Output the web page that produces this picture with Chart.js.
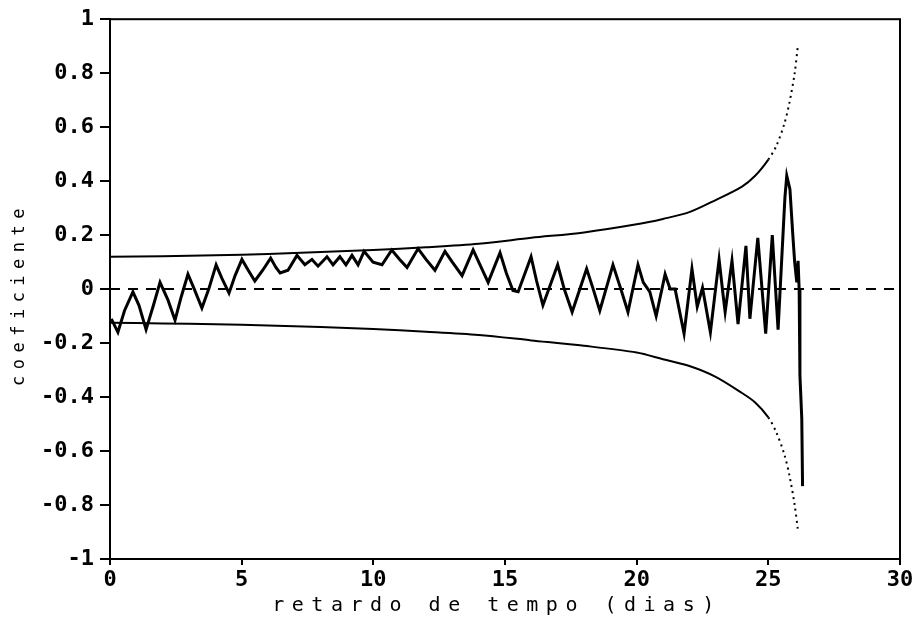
<!DOCTYPE html>
<html>
<head>
<meta charset="utf-8">
<script src="https://cdn.jsdelivr.net/npm/chart.js@4/dist/chart.umd.min.js"></script>
<style>
  html, body { margin: 0; padding: 0; background: #fff; }
  #wrap { width: 919px; height: 632px; position: relative; }
</style>
</head>
<body>
<div id="wrap"><canvas id="acf"></canvas></div>
<script>
// coeficiente de autocorrelacao vs retardo (dias)
const lagDias = [
  0.05, 0.3, 0.55, 0.87, 1.1, 1.37, 1.65, 1.9, 2.2, 2.47, 2.7, 2.96, 3.2, 3.49, 3.75,
  4.03, 4.25, 4.52, 4.75, 5.01, 5.25, 5.5, 5.8, 6.1, 6.3, 6.46, 6.76, 7.1, 7.4, 7.67,
  7.9, 8.24, 8.47, 8.73, 8.96, 9.19, 9.42, 9.65, 9.99, 10.33, 10.7, 11.0, 11.28, 11.7,
  12.0, 12.34, 12.72, 13.0, 13.37, 13.79, 14.1, 14.36, 14.81, 15.05, 15.3, 15.5, 15.99,
  16.2, 16.44, 17.0, 17.25, 17.55, 18.1, 18.35, 18.6, 19.1, 19.4, 19.67, 20.05, 20.25,
  20.5, 20.74, 21.08, 21.27, 21.46, 21.8, 22.1, 22.3, 22.5, 22.8, 23.13, 23.28, 23.36,
  23.62, 23.85, 24.15, 24.3, 24.6, 24.9, 25.15, 25.37, 25.63, 25.7, 25.82, 25.93, 26.0,
  26.08, 26.13, 26.17, 26.2, 26.27, 26.3
];
const coeficiente = [
  -0.11, -0.16, -0.08, -0.01, -0.06, -0.15, -0.06, 0.025, -0.04, -0.115, -0.03, 0.055, 0.0, -0.07, 0.0,
  0.09, 0.04, -0.015, 0.05, 0.11, 0.07, 0.03, 0.07, 0.115, 0.08, 0.06, 0.07, 0.125, 0.09, 0.11,
  0.085, 0.12, 0.09, 0.12, 0.09, 0.125, 0.09, 0.14, 0.1, 0.09, 0.145, 0.11, 0.08, 0.15,
  0.11, 0.07, 0.14, 0.1, 0.05, 0.145, 0.08, 0.025, 0.135, 0.06, -0.005, -0.01, 0.12,
  0.03, -0.06, 0.09, 0.0, -0.085, 0.075, 0.0, -0.08, 0.09, 0.0, -0.085, 0.09, 0.025,
  -0.01, -0.10, 0.055, 0.0, 0.0, -0.165, 0.075, -0.065, 0.005, -0.16, 0.11, -0.02, -0.085,
  0.105, -0.13, 0.16, -0.11, 0.19, -0.165, 0.2, -0.15, 0.34, 0.42, 0.37, 0.2, 0.1,
  0.025, 0.105, 0.0, -0.32, -0.48, -0.73
];

// limites de confianca
const limiteLag = [0, 2, 4, 6, 8, 10, 12, 14, 16, 18, 20, 21, 22, 23, 24, 24.5, 25, 25.3, 25.6, 25.8, 26.0, 26.12];
const limiteSup = [0.12, 0.122, 0.125, 0.13, 0.137, 0.145, 0.155, 0.168, 0.19, 0.21, 0.24, 0.26, 0.285, 0.33, 0.38, 0.42, 0.48, 0.53, 0.61, 0.69, 0.80, 0.90];
const limiteInf = [-0.125, -0.127, -0.13, -0.135, -0.14, -0.148, -0.158, -0.17, -0.19, -0.21, -0.235, -0.26, -0.285, -0.325, -0.385, -0.42, -0.475, -0.53, -0.61, -0.69, -0.80, -0.89];

const zeroLag = [0, 30];
const zeroVal = [0, 0];

const xTicks = [0, 5, 10, 15, 20, 25, 30];
const yTicks = [-1, -0.8, -0.6, -0.4, -0.2, 0, 0.2, 0.4, 0.6, 0.8, 1];
const yTickLabels = ["-1", "-0.8", "-0.6", "-0.4", "-0.2", "0", "0.2", "0.4", "0.6", "0.8", "1"];

const xTitulo = "retardo de tempo (dias)";
const yTitulo = "coeficiente";

const pares = (xs, ys) => xs.map((x, i) => ({ x: x, y: ys[i] }));
const pontilhado = (ctx) => (ctx.p0.parsed.x >= 25 ? [2, 4] : undefined);

const monoTick = { family: "DejaVu Sans Mono", size: 22, weight: "bold" };

const moldura = {
  id: "moldura",
  afterDraw(chart) {
    const { ctx, chartArea } = chart;
    const { left, top, right, bottom } = chartArea;
    ctx.save();
    ctx.strokeStyle = "#000";
    ctx.lineWidth = 2;
    ctx.strokeRect(left, top, right - left, bottom - top);

    ctx.fillStyle = "#000";
    ctx.textBaseline = "middle";
    ctx.textAlign = "center";
    ctx.font = "20px 'DejaVu Sans Mono'";
    ctx.letterSpacing = "7.5px";
    ctx.fillText(xTitulo, (left + right) / 2 - 8, 606);

    ctx.font = "17px 'DejaVu Sans Mono'";
    ctx.letterSpacing = "6.5px";
    ctx.translate(20, 294);
    ctx.rotate(-Math.PI / 2);
    ctx.fillText(yTitulo, 0, 0);
    ctx.restore();
  },
};

new Chart(document.getElementById("acf"), {
  type: "line",
  data: {
    datasets: [
      {
        label: "limite superior",
        data: pares(limiteLag, limiteSup),
        borderColor: "#000",
        borderWidth: 2,
        pointRadius: 0,
        tension: 0.3,
        segment: { borderDash: pontilhado },
      },
      {
        label: "limite inferior",
        data: pares(limiteLag, limiteInf),
        borderColor: "#000",
        borderWidth: 2,
        pointRadius: 0,
        tension: 0.3,
        segment: { borderDash: pontilhado },
      },
      {
        label: "zero",
        data: pares(zeroLag, zeroVal),
        borderColor: "#000",
        borderWidth: 2,
        borderDash: [10, 8],
        pointRadius: 0,
      },
      {
        label: "coeficiente",
        data: pares(lagDias, coeficiente),
        borderColor: "#000",
        borderWidth: 3,
        pointRadius: 0,
        tension: 0,
      },
    ],
  },
  options: {
    responsive: true,
    maintainAspectRatio: false,
    animation: false,
    layout: { padding: { top: 15, right: 19, left: 0, bottom: 0 } },
    plugins: {
      legend: { display: false },
      tooltip: { enabled: false },
    },
    scales: {
      x: {
        type: "linear",
        min: 0,
        max: 30,
        afterBuildTicks: (scale) => {
          scale.ticks = xTicks.map((v) => ({ value: v }));
        },
        afterFit: (scale) => {
          scale.height = 73;
        },
        ticks: {
          color: "#000",
          font: monoTick,
          padding: 2,
          maxRotation: 0,
          autoSkip: false,
        },
        grid: {
          display: true,
          drawOnChartArea: false,
          drawTicks: true,
          tickLength: 6,
          color: "#000",
          lineWidth: 2,
        },
        border: { display: true, color: "#000", width: 2 },
      },
      y: {
        type: "linear",
        min: -1,
        max: 1,
        afterBuildTicks: (scale) => {
          scale.ticks = yTicks.map((v) => ({ value: v }));
        },
        afterFit: (scale) => {
          scale.width = 110;
        },
        ticks: {
          color: "#000",
          font: monoTick,
          padding: 6,
          autoSkip: false,
          callback: (value, index) => yTickLabels[index],
        },
        grid: {
          display: true,
          drawOnChartArea: false,
          drawTicks: true,
          tickLength: 10,
          color: "#000",
          lineWidth: 2,
        },
        border: { display: true, color: "#000", width: 2 },
      },
    },
  },
  plugins: [moldura],
});
</script>
</body>
</html>
